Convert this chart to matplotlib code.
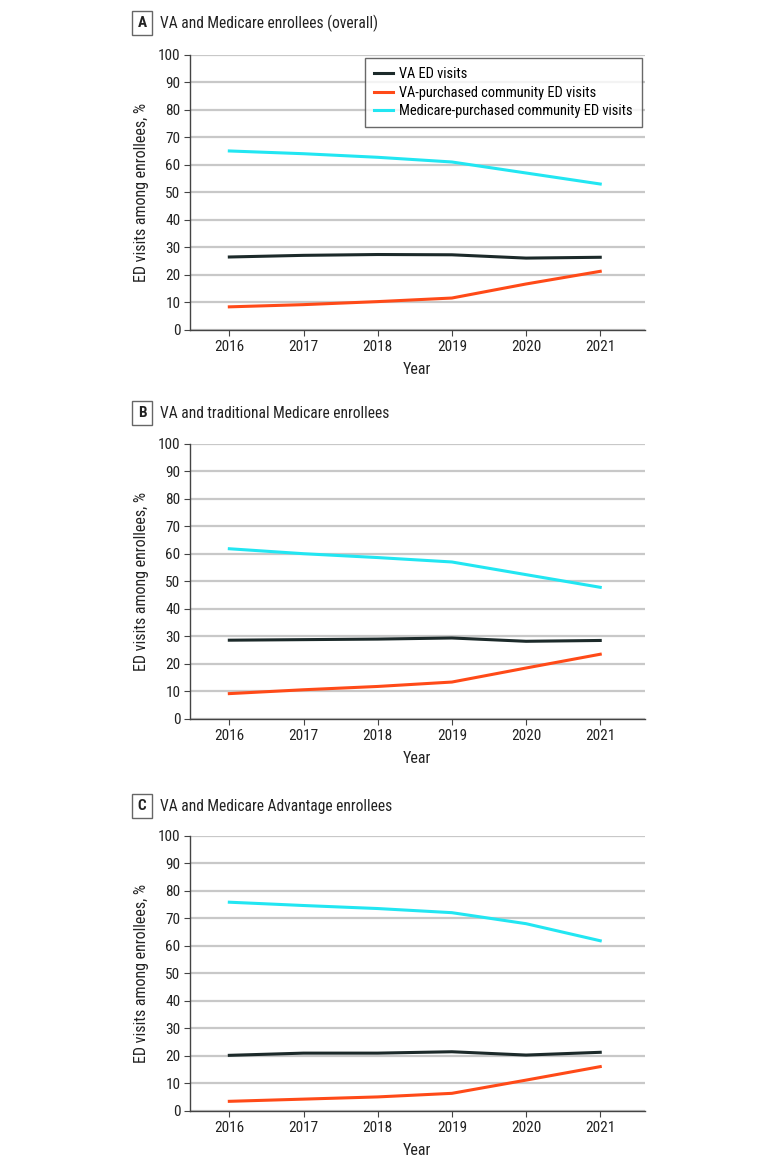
import matplotlib
matplotlib.use("Agg")
import matplotlib.pyplot as plt

years = [2016, 2017, 2018, 2019, 2020, 2021]

# panel A: VA and Medicare enrollees (overall)
va_ed_a = [26.5, 27.1, 27.4, 27.3, 26.1, 26.4]
va_comm_a = [8.4, 9.2, 10.3, 11.6, 16.7, 21.3]
mc_comm_a = [65.0, 64.0, 62.7, 61.0, 57.0, 53.0]

# panel B: VA and traditional Medicare enrollees
va_ed_b = [28.6, 28.8, 29.0, 29.4, 28.2, 28.5]
va_comm_b = [9.2, 10.6, 11.8, 13.4, 18.5, 23.5]
mc_comm_b = [61.8, 60.0, 58.6, 57.0, 52.4, 47.8]

# panel C: VA and Medicare Advantage enrollees
va_ed_c = [20.2, 21.0, 21.0, 21.5, 20.3, 21.3]
va_comm_c = [3.5, 4.3, 5.1, 6.4, 11.2, 16.1]
mc_comm_c = [75.8, 74.6, 73.5, 72.0, 68.0, 61.8]

letters = ["A", "B", "C"]
titles = ["VA and Medicare enrollees (overall)",
          "VA and traditional Medicare enrollees",
          "VA and Medicare Advantage enrollees"]
series_labels = ["VA ED visits", "VA-purchased community ED visits",
                 "Medicare-purchased community ED visits"]
colors = ["#1c2a2a", "#ff4a18", "#22e6f2"]

plt.rcParams["font.family"] = ["Roboto Condensed", "DejaVu Sans"]

fig = plt.figure(figsize=(7.8, 11.66), dpi=100)

panels = [(va_ed_a, va_comm_a, mc_comm_a),
          (va_ed_b, va_comm_b, mc_comm_b),
          (va_ed_c, va_comm_c, mc_comm_c)]
bottoms = [0.717, 0.3834, 0.0472]
header_y = [1 - 23 / 1166, 1 - 413 / 1166, 1 - 806 / 1166]

for i, (data, bot) in enumerate(zip(panels, bottoms)):
    ax = fig.add_axes([0.2436, bot, 0.583, 0.2362])
    for vals, lab, col in zip(data, series_labels, colors):
        ax.plot(years, vals, color=col, lw=2.2, label=lab, zorder=3)
    ax.set_xlim(2015.47, 2021.6)
    ax.set_ylim(0, 100)
    ax.set_yticks(range(0, 101, 10))
    ax.set_xticks(years)
    ax.grid(axis="y", color="#c8c8c8", lw=1.6, zorder=0)
    ax.set_axisbelow(True)
    for s in ["top", "right"]:
        ax.spines[s].set_visible(False)
    for s in ["left", "bottom"]:
        ax.spines[s].set_color("#444444")
        ax.spines[s].set_linewidth(1)
    ax.tick_params(axis="both", labelsize=11, length=4, color="#444444",
                   labelcolor="#222222", pad=3)
    ax.set_xlabel("Year", fontsize=11.5, color="#222222", labelpad=6)
    ax.set_ylabel("ED visits among enrollees, %", fontsize=11.5,
                  color="#222222", labelpad=6)
    if i == 0:
        leg = ax.legend(loc="upper right", bbox_to_anchor=(0.993, 0.986),
                        borderaxespad=0, fontsize=10.4, frameon=True,
                        fancybox=False, handlelength=1.3, handletextpad=0.45,
                        borderpad=0.6, labelspacing=0.32)
        leg.get_frame().set_edgecolor("#444444")
        leg.get_frame().set_linewidth(1)
    # panel letter box and title
    fig.text(142 / 780, header_y[i], letters[i], fontsize=11,
             fontweight="bold", ha="center", va="center", color="#222222",
             bbox=dict(boxstyle="square,pad=0.35", fc="white",
                       ec="#666666", lw=1))
    fig.text(160 / 780, header_y[i], titles[i], fontsize=11.2,
             ha="left", va="center", color="#222222")

fig.savefig("out.png", dpi=100, facecolor="white")
